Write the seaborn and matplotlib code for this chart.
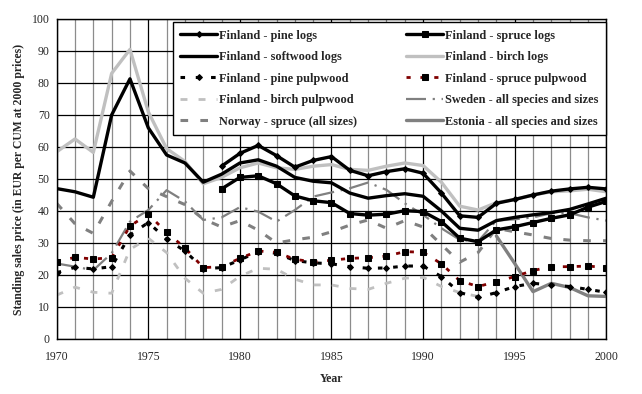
import matplotlib
matplotlib.use("Agg")
import matplotlib.pyplot as plt
import seaborn as sns
import pandas as pd
from matplotlib.ticker import MultipleLocator

# ---------------- data ----------------
years = list(range(1970, 2001))
years_from_1979 = list(range(1979, 2001))
years_to_1993 = list(range(1970, 1994))
years_from_1994 = list(range(1994, 2001))

softwood_logs = [47, 46, 44.3, 70, 81.3, 66, 57.5, 55, 49, 51.5, 55, 56, 54, 50.5, 49.3,
                 48.8, 45.6, 44, 44.8, 45.4, 44.6, 40, 34.6, 34, 37, 38, 38.8, 39.5, 40.5,
                 42.2, 44]
birch_logs = [58.5, 62.5, 58.3, 83, 90.5, 71, 59.5, 55.5, 48.5, 50.5, 53.5, 55, 53.5, 53,
              54, 54.5, 53, 52.7, 54, 55, 54.2, 49, 41.5, 40.3, 42.6, 43.6, 45, 46, 46.3,
              46.8, 46]
pine_logs = [54, 58, 60.5, 57.3, 53.7, 55.8, 57, 52.7, 51, 52.3, 53.2, 51.8, 45.6, 38.5,
             38, 42.4, 43.6, 45, 46.2, 46.9, 47.4, 46.9]
spruce_logs = [46.9, 50.5, 51, 48.5, 44.7, 43.2, 42.6, 39.2, 38.7, 39, 40.1, 39.8, 36.7,
               31.5, 30.4, 34.1, 35.1, 36.4, 37.7, 38.8, 41.2, 43]
pine_pulp = [20.7, 22.4, 21.9, 22.6, 32.5, 36.4, 31.2, 27.5, 22, 22.3, 24.7, 27.3, 26.8,
             24.5, 23.8, 23.5, 22.6, 22.1, 22.2, 22.8, 22.8, 19.5, 14.5, 13, 14.5, 16.4,
             17.4, 16.9, 16.4, 15.5, 14.6]
spruce_pulp = [24.2, 25.5, 25, 25.4, 35.3, 39, 33.3, 28.5, 22.3, 22.6, 25.2, 27.5, 27.1,
               24.9, 24.1, 24.6, 25.2, 25.4, 25.9, 27.3, 27.1, 23.5, 18.2, 16.4, 17.9, 19.5,
               21.4, 22.6, 22.6, 22.8, 22.3]
birch_pulp = [13.7, 16.2, 14.6, 14.3, 28, 31.5, 27, 19, 14.3, 15.5, 19.6, 22.1, 21.8, 18.7,
              16.9, 16.9, 15.8, 15.5, 17.4, 19, 19.3, 16.4, 14.5, 13.3]
sweden = [23.6, 22.6, 21.5, 26.8, 36.7, 40.3, 46.5, 43, 37.2, 38, 41.2, 39.8, 36.7, 40.3,
          44.5, 45.8, 47.1, 48.9, 46.6, 42.4, 38.8, 34.6, 31, 30.5, 37, 37.4, 38, 39.3,
          39.3, 38, 37]
norway = [42.4, 36, 33, 43, 52.5, 47, 44.5, 42, 37.5, 35, 37, 34, 30, 31, 31.8, 33.5, 35.6,
          37.2, 34.6, 37, 35, 29.5, 24, 27, 34.6, 33.5, 32.5, 31.4, 30.9, 30.7, 30.7]
estonia = [32.2, 23.6, 14.8, 17.4, 16.1, 13.5, 13.3]

x_ticks = list(range(1970, 2001, 5))
y_ticks = list(range(0, 101, 10))

# ---------------- style ----------------
sns.set_style("white")
plt.rcParams["font.family"] = ["Liberation Serif", "DejaVu Serif"]

fig = plt.figure(figsize=(6.42, 3.94), dpi=100)
ax = fig.add_axes([0.0883, 0.1396, 0.8561, 0.8122])

BLACK = "black"
LGRAY = "#c0c0c0"
GRAY = "#808080"
DRED = "#800000"

series = [
    ("Finland - pine logs", years_from_1979, pine_logs,
     dict(color=BLACK, linewidth=2.4, marker="D", markersize=3,
          markerfacecolor=BLACK, markeredgecolor=BLACK)),
    ("Finland - softwood logs", years, softwood_logs,
     dict(color=BLACK, linewidth=2.4)),
    ("Finland - pine pulpwood", years, pine_pulp,
     dict(color=BLACK, linewidth=2.2, linestyle=(0, (1.5, 3.5)), marker="D", markersize=3,
          markerfacecolor=BLACK, markeredgecolor=BLACK)),
    ("Finland - birch pulpwood", years_to_1993, birch_pulp,
     dict(color=LGRAY, linewidth=2.0, linestyle=(0, (2.5, 4)))),
    ("Norway - spruce (all sizes)", years, norway,
     dict(color=GRAY, linewidth=2.2, linestyle=(0, (2.5, 4)))),
    ("Finland - spruce logs", years_from_1979, spruce_logs,
     dict(color=BLACK, linewidth=2.4, marker="s", markersize=5,
          markerfacecolor=BLACK, markeredgecolor=BLACK)),
    ("Finland - birch logs", years, birch_logs,
     dict(color=LGRAY, linewidth=2.4)),
    ("Finland - spruce pulpwood", years, spruce_pulp,
     dict(color=DRED, linewidth=2.0, linestyle=(0, (1.5, 3.5)), marker="s", markersize=5,
          markerfacecolor=BLACK, markeredgecolor=BLACK)),
    ("Sweden - all species and sizes", years, sweden,
     dict(color=GRAY, linewidth=1.6, linestyle=(0, (9, 3, 1, 3)))),
    ("Estonia - all species and sizes", years_from_1994, estonia,
     dict(color=GRAY, linewidth=2.4)),
]

draw_order = [6, 4, 8, 9, 3, 1, 0, 5, 2, 7]
handles = {}
for i in draw_order:
    label, xs, ys, kw = series[i]
    df = pd.DataFrame({"year": xs, "price": ys})
    sns.lineplot(data=df, x="year", y="price", ax=ax, label=label,
                 estimator=None, sort=False, legend=False, **kw)
    handles[label] = ax.get_lines()[-1]

ax.set_xlim(1970, 2000)
ax.set_ylim(0, 100)
ax.set_xticks(x_ticks)
ax.set_yticks(y_ticks)
ax.xaxis.set_minor_locator(MultipleLocator(1))
ax.set_axisbelow(True)
ax.grid(which="minor", axis="x", color="#8c8c8c", linewidth=0.9)
ax.grid(which="major", axis="x", color="black", linewidth=0.9)
ax.grid(which="major", axis="y", color="black", linewidth=0.9)
ax.tick_params(which="minor", length=0)
ax.tick_params(which="major", direction="out", length=3, width=0.8, color="black",
               labelsize=8.5, pad=2)
ax.tick_params(axis="x", pad=6)
for s in ax.spines.values():
    s.set_color("black")
    s.set_linewidth(1.0)

ax.set_xlabel("Year", fontsize=8.5, fontweight="bold", labelpad=7)
ax.set_ylabel("Standing sales price (in EUR per CUM at 2000 prices)", fontsize=8.5,
              fontweight="bold", labelpad=5)

labels = [s[0] for s in series]
leg = ax.legend([handles[l] for l in labels], labels, ncol=2, loc="upper left",
                bbox_to_anchor=(0.2116, 0.99, 0.788, 0.0), mode="expand",
                prop={"weight": "bold", "size": 8.8},
                frameon=True, fancybox=False, edgecolor="black", framealpha=1,
                handlelength=3.0, handletextpad=0.2, labelspacing=0.78,
                borderpad=0.6, borderaxespad=0, numpoints=1)
leg.get_frame().set_linewidth(1.0)

fig.savefig("out.png", dpi=100, facecolor="white")
